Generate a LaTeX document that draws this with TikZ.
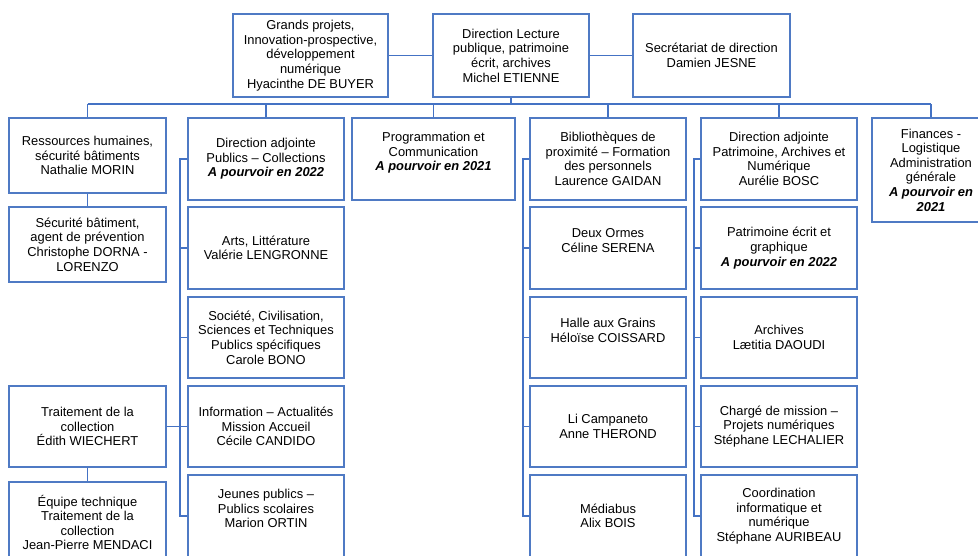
\documentclass[tikz,border=0pt]{standalone}
\usepackage{fontspec}
\setmainfont{Liberation Sans}
\definecolor{lineblue}{RGB}{68,114,196}
\definecolor{boxblue}{RGB}{79,122,196}
\newcommand{\apv}[1]{\textbf{\textit{#1}}}
\begin{document}
\begin{tikzpicture}[x=1pt,y=-1pt,
  orgbox/.style={draw=boxblue, line width=1.1pt, fill=white, align=center, inner sep=0pt,
    minimum width=156pt, minimum height=82pt, font=\fontsize{12.9}{14.6}\selectfont, text=black},
  link/.style={draw=lineblue, line width=1.2pt}]
\clip (0,0) rectangle (978,556);
\fill[white] (0,0) rectangle (978,556);

% top row
\node[orgbox, minimum width=155pt, minimum height=83pt] (gp) at (310.5,55.5) {Grands projets,\\Innovation-prospective,\\développement\\numérique\\Hyacinthe DE BUYER};
\node[orgbox, minimum height=83pt] (dir) at (511,55.5) {Direction Lecture\\publique, patrimoine\\écrit, archives\\Michel ETIENNE};
\node[orgbox, minimum width=157pt, minimum height=83pt] (secd) at (711.5,55.5) {Secrétariat de direction\\Damien JESNE};

% second row
\node[orgbox, minimum width=157pt, minimum height=75pt] (rh) at (87.5,155.5) {Ressources humaines,\\sécurité bâtiments\\Nathalie MORIN};
\node[orgbox, minimum width=157pt, minimum height=75pt] (secu) at (87.5,244.5) {Sécurité bâtiment,\\agent de prévention\\Christophe DORNA -\\LORENZO};
\node[orgbox, minimum width=157pt, minimum height=81pt] (trait) at (87.5,426.5) {Traitement de la\\collection\\Édith WIECHERT};
\node[orgbox, minimum width=157pt, minimum height=81pt] (equipe) at (87.5,522.5) {Équipe technique\\Traitement de la\\collection\\Jean-Pierre MENDACI};

\node[orgbox] (dap) at (266,159) {Direction adjointe\\Publics – Collections\\\apv{A pourvoir en 2022}};
\node[orgbox] (arts) at (266,248) {Arts, Littérature\\Valérie LENGRONNE};
\node[orgbox, minimum height=81pt] (soc) at (266,337.5) {Société, Civilisation,\\Sciences et Techniques\\Publics spécifiques\\Carole BONO};
\node[orgbox, minimum height=81pt] (info) at (266,426.5) {Information – Actualités\\Mission Accueil\\Cécile CANDIDO};
\node[orgbox] (jeunes) at (266,516) {Jeunes publics –\\Publics scolaires\\Marion ORTIN\\\mbox{}};

\node[orgbox, minimum width=163pt] (prog) at (433.5,159) {Programmation et\\Communication\\\apv{A pourvoir en 2021}\\\mbox{}};

\node[orgbox] (bib) at (608,159) {Bibliothèques de\\proximité – Formation\\des personnels\\Laurence GAIDAN};
\node[orgbox] (deux) at (608,248) {Deux Ormes\\Céline SERENA\\\mbox{}};
\node[orgbox, minimum height=81pt] (halle) at (608,337.5) {Halle aux Grains\\Héloïse COISSARD\\\mbox{}};
\node[orgbox, minimum height=81pt] (li) at (608,426.5) {Li Campaneto\\Anne THEROND};
\node[orgbox] (media) at (608,516) {Médiabus\\Alix BOIS};

\node[orgbox] (dapat) at (779,159) {Direction adjointe\\Patrimoine, Archives et\\Numérique\\Aurélie BOSC};
\node[orgbox] (pat) at (779,248) {Patrimoine écrit et\\graphique\\\apv{A pourvoir en 2022}};
\node[orgbox, minimum height=81pt] (arch) at (779,337.5) {Archives\\Lætitia DAOUDI};
\node[orgbox, minimum height=81pt] (charge) at (779,426.5) {Chargé de mission –\\Projets numériques\\Stéphane LECHALIER};
\node[orgbox] (coord) at (779,516) {Coordination\\informatique et\\numérique\\Stéphane AURIBEAU};

\node[orgbox, minimum width=118pt, minimum height=104pt] (fin) at (931,170) {Finances -\\Logistique\\Administration\\générale\\\apv{A pourvoir en}\\\apv{2021}};

% connector reference coordinates
\coordinate (bus) at (0,104);
\coordinate (vpub) at (180,0);
\coordinate (vbib) at (523,0);
\coordinate (vpat) at (694,0);

% top connectors
\draw[link] (gp.east) -- (dir.west);
\draw[link] (dir.east) -- (secd.west);
\draw[link] (dir.south) -- (dir.south |- bus);
\draw[link] (rh.north |- bus) -- (fin.north |- bus);
\foreach \n in {rh,dap,prog,bib,dapat,fin}
  \draw[link] (\n.north) -- (\n.north |- bus);

% left column
\draw[link] (rh.south) -- (secu.north);
\draw[link] (trait.south) -- (equipe.north);
\draw[link] (trait.east) -- (trait.east -| vpub);

% Publics
\draw[link] (dap.west) -- (dap.west -| vpub) -- (jeunes.west -| vpub) -- (jeunes.west);
\foreach \n in {arts,soc,info}
  \draw[link] (\n.west) -- (\n.west -| vpub);

% Bibliotheques
\draw[link] (bib.west) -- (bib.west -| vbib) -- (media.west -| vbib) -- (media.west);
\foreach \n in {deux,halle,li}
  \draw[link] (\n.west) -- (\n.west -| vbib);

% Patrimoine
\draw[link] (dapat.west) -- (dapat.west -| vpat) -- (coord.west -| vpat) -- (coord.west);
\foreach \n in {pat,arch,charge}
  \draw[link] (\n.west) -- (\n.west -| vpat);
\end{tikzpicture}
\end{document}
